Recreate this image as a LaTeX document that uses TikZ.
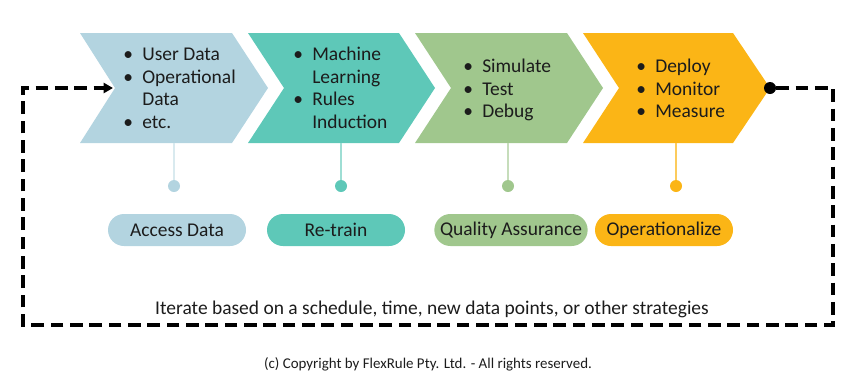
\documentclass[tikz,border=0pt]{standalone}
\usepackage{fontspec}
\setmainfont{Carlito}
\usetikzlibrary{arrows.meta, positioning}

\definecolor{accblue}{HTML}{B3D4E0}
\definecolor{retteal}{HTML}{5EC8B8}
\definecolor{qagreen}{HTML}{A0C78D}
\definecolor{opsorange}{HTML}{FBB516}
\definecolor{inktext}{HTML}{1C1C1C}

\begin{document}
\begin{tikzpicture}[x=0.75pt, y=-0.75pt,
  items/.style={font=\fontsize{14.6}{17}\selectfont, text=inktext, inner sep=0pt, anchor=west},
  stem/.style={line width=0.8pt},
  stagedot/.style={circle, inner sep=0pt, minimum size=9pt},
  pill/.style={rounded corners=12pt, minimum height=24pt, minimum width=103.5pt, inner sep=0pt, font=\fontsize{14.6}{17}\selectfont, text=inktext},
  loopline/.style={line width=2.4pt, dash pattern=on 9.5pt off 5pt, -{Triangle[length=7pt,width=7.5pt]}}
]
  \useasboundingbox (0,0) rectangle (853,383);

  % ACCESS DATA
  \begin{scope}[shift={(80,0)}]
    \fill[accblue] (0,33) -- (152,33) -- (188,88) -- (152,143) -- (0,143) -- (35,88) -- cycle;
    \coordinate (acc-in) at (33,88);
    \coordinate (acc-bot) at (94,143);
    \node[items] (acc-list) at (43,90) {\begin{tabular}{@{}l@{\hspace{7pt}}l@{}}
      \textbullet & User Data\\
      \textbullet & Operational\\
                  & Data\\
      \textbullet & etc.
    \end{tabular}};
  \end{scope}

  % RE-TRAIN
  \begin{scope}[shift={(248,0)}]
    \fill[retteal] (0,33) -- (151,33) -- (187,88) -- (151,143) -- (0,143) -- (36,88) -- cycle;
    \coordinate (ret-bot) at (93,143);
    \node[items] (ret-list) at (45,90) {\begin{tabular}{@{}l@{\hspace{7pt}}l@{}}
      \textbullet & Machine\\
                  & Learning\\
      \textbullet & Rules\\
                  & Induction
    \end{tabular}};
  \end{scope}

  % QUALITY ASSURANCE
  \begin{scope}[shift={(415,0)}]
    \fill[qagreen] (0,33) -- (152,33) -- (188,88) -- (152,143) -- (0,143) -- (36,88) -- cycle;
    \coordinate (qa-bot) at (93,143);
    \node[items] (qa-list) at (48,90.5) {\begin{tabular}{@{}l@{\hspace{7pt}}l@{}}
      \textbullet & Simulate\\
      \textbullet & Test\\
      \textbullet & Debug
    \end{tabular}};
  \end{scope}

  % OPERATIONALIZE
  \begin{scope}[shift={(583,0)}]
    \fill[opsorange] (0,33) -- (150,33) -- (187,88) -- (150,143) -- (0,143) -- (36,88) -- cycle;
    \coordinate (ops-bot) at (93,143);
    \coordinate (ops-tip) at (187,88);
    \node[items] (ops-list) at (53,90.5) {\begin{tabular}{@{}l@{\hspace{7pt}}l@{}}
      \textbullet & Deploy\\
      \textbullet & Monitor\\
      \textbullet & Measure
    \end{tabular}};
  \end{scope}

  % stems and dots
  \node[stagedot, fill=accblue] (acc-dot) at (174,186) {};
  \node[stagedot, fill=retteal] (ret-dot) at (341,186) {};
  \node[stagedot, fill=qagreen] (qa-dot) at (508,186) {};
  \node[stagedot, fill=opsorange] (ops-dot) at (676,186) {};
  \draw[stem, accblue!50] (acc-bot) -- (acc-dot);
  \draw[stem, retteal!60] (ret-bot) -- (ret-dot);
  \draw[stem, qagreen!60] (qa-bot) -- (qa-dot);
  \draw[stem, opsorange!70] (ops-bot) -- (ops-dot);

  % stage names
  \node[pill, fill=accblue] (acc-name) at (177,230) {Access Data};
  \node[pill, fill=retteal] (ret-name) at (336,230) {Re-train};
  \node[pill, fill=qagreen, minimum width=115pt] (qa-name) at (511,230) {Quality Assurance};
  \node[pill, fill=opsorange] (ops-name) at (664,230) {Operationalize};

  % iteration loop
  \node[circle, fill=black, inner sep=0pt, minimum size=9pt] (end-dot) at (ops-tip) {};
  \coordinate (loop-ne) at (833,88);
  \coordinate (loop-se) at (833,325);
  \coordinate (loop-sw) at (23,325);
  \coordinate (loop-nw) at (23,88);
  \draw[loopline] (end-dot) -- (loop-ne) -- (loop-se) -- (loop-sw) -- (loop-nw) -- (acc-in);

  \node[font=\fontsize{14.6}{17}\selectfont, text=inktext] (iter-note) at (432,309)
    {Iterate based on a schedule, time, new data points, or other strategies};
  \node[font=\fontsize{11.2}{13}\selectfont, text=inktext] (copy-note) at (428,364)
    {(c) Copyright by FlexRule Pty. Ltd. - All rights reserved.};
\end{tikzpicture}
\end{document}
